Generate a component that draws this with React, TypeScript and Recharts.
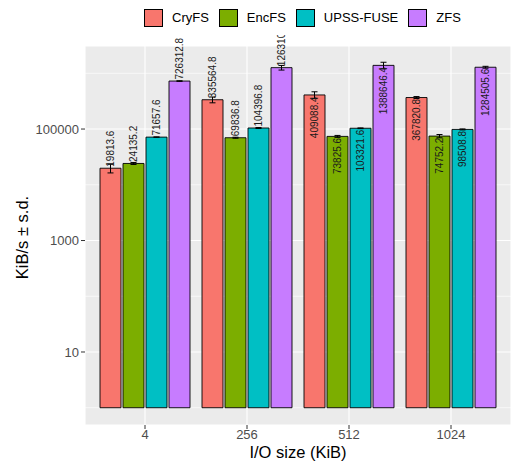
import React from "react";
import { BarChart, Bar, XAxis, YAxis, CartesianGrid, ErrorBar, LabelList } from "recharts";

const categories = ["4", "256", "512", "1024"];
const seriesNames = ["CryFS", "EncFS", "UPSS-FUSE", "ZFS"];
const seriesColors = ["#F8766D", "#7CAE00", "#00BFC4", "#C77CFF"];
const cryfs = [19813.6, 335564.8, 409088.4, 367820.8];
const encfs = [24135.2, 69836.8, 73825.6, 74752.2];
const upss = [71657.6, 104396.8, 103321.6, 98508.8];
const zfs = [726312.8, 1263104, 1388646.4, 1284505.6];
const cryfsSd = [3500, 40000, 57000, 15000];
const encfsSd = [1000, 1500, 3000, 5000];
const upssSd = [500, 2000, 1500, 2000];
const zfsSd = [8000, 120000, 190000, 50000];
const yTicks = [10, 1000, 100000];
const yMinorGrid = [1, 100, 10000, 1000000];
const yDomain = [0.49, 3.09e6];
const barBase = 1;
const insideLabelCategories = ["512", "1024"];

const seriesValues = [cryfs, encfs, upss, zfs];
const seriesSds = [cryfsSd, encfsSd, upssSd, zfsSd];

const data = categories.map((c, i) => {
  const row: any = { size: c };
  seriesNames.forEach((n, s) => {
    row[n] = seriesValues[s][i];
    row[n + "_sd"] = seriesSds[s][i];
  });
  return row;
});

const FONT = '"Liberation Sans", Arial, Helvetica, sans-serif';

const makeLabel = (values: number[]) => (props: any) => {
  const { x, y, width, value, index } = props;
  const v = Array.isArray(value) ? value[1] : value;
  const i = typeof index === "number" ? index : values.indexOf(v);
  const inside = insideLabelCategories.includes(categories[i]);
  const cx = Number(x) + Number(width) / 2;
  const ty = inside ? Number(y) + 1.5 : Number(y) - 1.5;
  return (
    <text
      x={cx}
      y={ty}
      transform={`rotate(-90, ${cx}, ${ty})`}
      textAnchor={inside ? "end" : "start"}
      dominantBaseline="central"
      fontSize={10}
      fontFamily={FONT}
      fill="#1a1a1a"
    >
      {String(values[i])}
    </text>
  );
};

const YTitle = (props: any) => {
  const vb = props.viewBox || { x: 0, y: 46, width: 85, height: 379 };
  const cx = vb.x + 28;
  const cy = vb.y + vb.height / 2 + 2;
  return (
    <text
      x={cx}
      y={cy}
      transform={`rotate(-90, ${cx}, ${cy})`}
      textAnchor="middle"
      fontSize={16.5}
      fontFamily={FONT}
      fill="#000"
    >
      KiB/s ± s.d.
    </text>
  );
};

const Legend = () => (
  <div
    style={{
      position: "absolute",
      left: 0,
      top: 0,
      width: 511,
      height: 35,
      background: "#fff",
      zIndex: 5,
      fontFamily: FONT,
      fontSize: 13,
      color: "#000",
    }}
  >
    <div style={{ position: "absolute", left: 144, top: 9, display: "flex", alignItems: "center" }}>
      {seriesNames.map((n, i) => (
        <div key={n} style={{ display: "flex", alignItems: "center", marginRight: 10 }}>
          <div
            style={{
              width: 17,
              height: 16,
              background: seriesColors[i],
              border: "1px solid #000",
              marginRight: 9,
            }}
          />
          <span style={{ lineHeight: "18px" }}>{n}</span>
        </div>
      ))}
    </div>
  </div>
);

export default function App() {
  return (
    <div style={{ position: "absolute", left: 0, top: 0, width: 511, height: 466, background: "#fff", fontFamily: FONT }}>
      <Legend />
      <BarChart
        width={511}
        height={466}
        data={data}
        margin={{ top: 46, right: 0, bottom: 0, left: 0 }}
        barGap={2}
        barSize={21}
      >
        <CartesianGrid
          fill="#EBEBEB"
          stroke="#FFFFFF"
          strokeWidth={0.65}
          vertical={false}
          horizontalValues={yMinorGrid}
        />
        <CartesianGrid stroke="#FFFFFF" strokeWidth={1.1} fill="none" />
        <XAxis
          dataKey="size"
          type="category"
          height={41}
          padding={{ left: 9, right: 9 }}
          axisLine={false}
          tickSize={4}
          tickMargin={1}
          tickLine={{ stroke: "#333333", strokeWidth: 1 }}
          tick={{ fill: "#4D4D4D", fontSize: 13, fontFamily: FONT }}
          label={{ value: "I/O size (KiB)", position: "insideBottom", offset: 8, fill: "#000", fontSize: 16.5, fontFamily: FONT }}
        />
        <YAxis
          scale="log"
          domain={yDomain}
          allowDataOverflow
          ticks={yTicks}
          width={85}
          axisLine={false}
          tickSize={4}
          tickMargin={2}
          tickLine={{ stroke: "#333333", strokeWidth: 1 }}
          tick={{ fill: "#4D4D4D", fontSize: 13, fontFamily: FONT }}
          tickFormatter={(v: number) => String(v)}
          label={{ content: (p: any) => <YTitle {...p} /> }}
        />
        {seriesNames.map((n, s) => (
          <Bar
            key={n}
            dataKey={(d: any) => [barBase, d[n]]}
            name={n}
            fill={seriesColors[s]}
            stroke="#000"
            strokeWidth={0.9}
            isAnimationActive={false}
          >
            <ErrorBar dataKey={n + "_sd"} width={3} stroke="#000" strokeWidth={1} direction="y" />
            <LabelList dataKey={n} content={makeLabel(seriesValues[s])} />
          </Bar>
        ))}
      </BarChart>
    </div>
  );
}
